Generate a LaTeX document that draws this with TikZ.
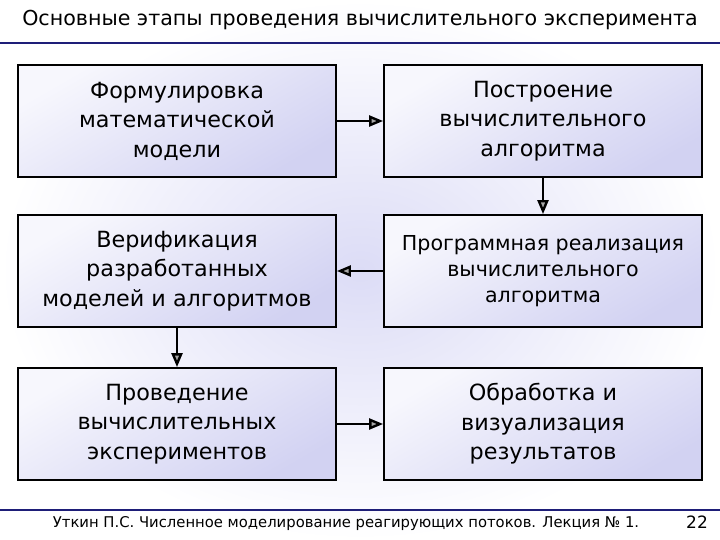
\documentclass[tikz,border=0pt]{standalone}
\usepackage{fontspec}
\setmainfont{DejaVu Sans}
\usetikzlibrary{arrows.meta,shadings}
\definecolor{lav}{HTML}{DCDCF6}
\definecolor{boxlav}{HTML}{D2D2F2}
\definecolor{boxlight}{HTML}{F7F7FD}
\definecolor{navy}{HTML}{1E1E78}
\tikzset{
  stage/.style={draw=black, line width=1.8pt, minimum width=318pt, minimum height=112pt,
    align=center, font=\fontsize{22.3}{29.5}\selectfont, inner sep=0pt,
    top color=boxlight, bottom color=boxlav, shading angle=30},
  flow/.style={line width=2pt, -{Triangle[open,length=14pt,width=11pt,fill=black!35,line width=2.4pt]}}
}
\begin{document}
\begin{tikzpicture}[x=1pt,y=-1pt]
\useasboundingbox (0,0) rectangle (720,540);
\shade[inner color=lav, outer color=white] (0,0) rectangle (720,540);
\node[font=\fontsize{20.6}{22}\selectfont] (title) at (360,20) {Основные этапы проведения вычислительного эксперимента};
\coordinate (tl) at (0,43);
\coordinate (tr) at (720,43);
\draw[navy, line width=1.8pt] (tl) -- (tr);
\coordinate (fl) at (0,510);
\coordinate (fr) at (720,510);
\draw[navy, line width=1.8pt] (fl) -- (fr);
\node[font=\fontsize{14.8}{16}\selectfont] (foot) at (346,524) {Уткин П.С. Численное моделирование реагирующих потоков. Лекция № 1.};
\node[font=\fontsize{17}{18}\selectfont] (page) at (697,522) {22};

\node[stage] (b1) at (177,121) {Формулировка\\математической\\модели};
\node[stage] (b2) at (543,121) {Построение\\вычислительного\\алгоритма};
\node[stage] (b3) at (177,271) {Верификация\\разработанных\\моделей и алгоритмов};
\node[stage, font=\fontsize{20.6}{26}\selectfont] (b4) at (543,271) {Программная реализация\\вычислительного\\алгоритма};
\node[stage] (b5) at (177,424) {Проведение\\вычислительных\\экспериментов};
\node[stage] (b6) at (543,424) {Обработка и\\визуализация\\результатов};

\draw[flow] (b1) -- (b2);
\draw[flow] (b2) -- (b4);
\draw[flow] (b4) -- (b3);
\draw[flow] (b3) -- (b5);
\draw[flow] (b5) -- (b6);
\end{tikzpicture}
\end{document}
